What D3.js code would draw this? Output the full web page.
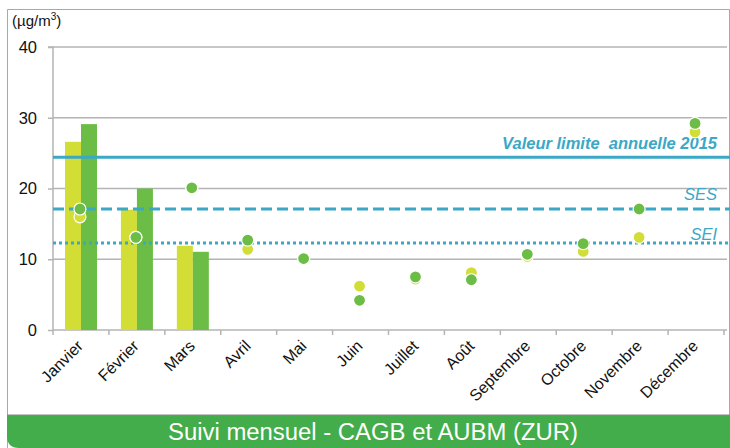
<!DOCTYPE html>
<html><head><meta charset="utf-8">
<script src="https://cdn.jsdelivr.net/npm/d3@7"></script>
<style>body{margin:0;background:#fff}svg{display:block}</style>
</head><body>
<script>
const months = ["Janvier","Février","Mars","Avril","Mai","Juin","Juillet","Août","Septembre","Octobre","Novembre","Décembre"];
// bar series (first quarter only)
const barsCAGB = [26.6, 17.0, 11.9, null, null, null, null, null, null, null, null, null];
const barsAUBM = [29.1, 20.0, 11.05, null, null, null, null, null, null, null, null, null];
// point series
const ptsCAGB = [16.0, 13.1, 20.0, 11.4, 10.0, 6.2, 7.2, 8.1, 10.4, 11.1, 13.1, 28.0];
const ptsAUBM = [17.1, 13.1, 20.1, 12.7, 10.1, 4.2, 7.5, 7.1, 10.7, 12.2, 17.1, 29.2];
const yTicks = [0, 10, 20, 30, 40];
const refLines = [
  {name:"Valeur limite  annuelle 2015", value:24.4, style:"solid"},
  {name:"SES", value:17.1, style:"dash"},
  {name:"SEI", value:12.3, style:"dot"}
];
const title = "Suivi mensuel - CAGB et AUBM (ZUR)";
const unitBase = "(µg/m", unitSup = "3", unitEnd = ")";

const W = 730, H = 448;
const FONT = "'Liberation Sans', Arial, sans-serif";
const svg = d3.select("body").append("svg").attr("width", W).attr("height", H);
const yellow = "#d2dd35", green = "#6bbd45", blue = "#3aa8c6", grid = "#b4b4b4";

// frame
svg.append("path")
  .attr("d", `M7.5,448 L7.5,9.5 L729.5,9.5 L729.5,448`)
  .attr("fill","none").attr("stroke","#a8a8a8").attr("stroke-width",1);
// bottom band
svg.append("path")
  .attr("d", `M7,415 L730,415 L730,448 L19,448 Q7,448 7,436 Z`)
  .attr("fill","#42ad4a");
svg.append("line").attr("x1",7).attr("x2",730).attr("y1",415).attr("y2",415).attr("stroke","#888").attr("stroke-width",1);
svg.append("text").text(title)
  .attr("x", 373).attr("y", 440).attr("text-anchor","middle")
  .attr("fill","#fff").attr("font-family",FONT)
  .attr("font-size",23).attr("textLength",410).attr("lengthAdjust","spacingAndGlyphs");

const x0 = 53, x1 = 724, yTop = 47, yBot = 330;
const x = d3.scaleBand().domain(months).range([x0, x1]).paddingInner(0).paddingOuter(0);
const y = d3.scaleLinear().domain([0, 40]).range([yBot, yTop]);

// gridlines
svg.append("g").selectAll("line").data(yTicks.filter(d=>d>0)).join("line")
  .attr("x1", x0).attr("x2", 727).attr("y1", d=>y(d)).attr("y2", d=>y(d))
  .attr("stroke", grid).attr("stroke-width",1.5);

// y axis
const yAxis = svg.append("g").attr("transform",`translate(${x0},0)`)
  .call(d3.axisLeft(y).tickValues(yTicks).tickSize(5).tickPadding(11).tickFormat(d3.format("d")));
yAxis.select(".domain").attr("stroke", grid).attr("stroke-width",1.5).attr("d",`M-5,${y(40)}H0V${yBot}`);
yAxis.selectAll(".tick line").attr("stroke", grid).attr("stroke-width",1.5);
yAxis.selectAll("text").attr("font-family",FONT).attr("font-size",16.5).attr("fill","#111");

const ut = svg.append("text").attr("x",12).attr("y",26)
  .attr("font-family",FONT).attr("font-size",15).attr("fill","#111");
ut.append("tspan").text(unitBase);
ut.append("tspan").text(unitSup).attr("font-size",10).attr("dy",-6);
ut.append("tspan").text(unitEnd).attr("dy",6);

// x axis
const xg = svg.append("g").attr("transform",`translate(0,${yBot})`);
xg.append("line").attr("x1",x0).attr("x2",727).attr("y1",0).attr("y2",0).attr("stroke",grid).attr("stroke-width",1.5);
const bounds = months.map(m=>x(m)).concat([x1]);
xg.selectAll("line.tk").data(bounds).join("line").attr("class","tk")
  .attr("x1",d=>d).attr("x2",d=>d).attr("y1",0).attr("y2",5).attr("stroke",grid).attr("stroke-width",1.5);
xg.selectAll("text").data(months).join("text")
  .text(d=>d)
  .attr("transform", d=>`translate(${x(d)+x.bandwidth()/2+3},${17}) rotate(-45)`)
  .attr("text-anchor","end")
  .attr("font-family",FONT).attr("font-size",16).attr("fill","#111");

// bars
const bw = 16, off = 12;
svg.append("g").selectAll("rect").data(months.map((m,i)=>({m,v:barsCAGB[i]})).filter(d=>d.v!=null)).join("rect")
  .attr("x", d=>x(d.m)+off).attr("width", bw).attr("y", d=>y(d.v)).attr("height", d=>yBot-y(d.v)).attr("fill", yellow);
svg.append("g").selectAll("rect").data(months.map((m,i)=>({m,v:barsAUBM[i]})).filter(d=>d.v!=null)).join("rect")
  .attr("x", d=>x(d.m)+off+bw).attr("width", bw).attr("y", d=>y(d.v)).attr("height", d=>yBot-y(d.v)).attr("fill", green);

// reference lines
refLines.forEach(r=>{
  const l = svg.append("line").attr("x1",x0).attr("x2",730).attr("y1",y(r.value)).attr("y2",y(r.value))
    .attr("stroke",blue).attr("stroke-width",3);
  if (r.style==="dash") l.attr("stroke-dasharray","11,5");
  if (r.style==="dot") l.attr("stroke-dasharray","3,3");
});
svg.append("text").text(refLines[0].name).attr("x",717).attr("y",y(refLines[0].value)-8)
  .attr("text-anchor","end").attr("font-family",FONT).attr("xml:space","preserve")
  .attr("font-size",16.5).attr("font-weight","bold").attr("font-style","italic").attr("fill",blue);
svg.append("text").text(refLines[1].name).attr("x",717).attr("y",y(refLines[1].value)-9)
  .attr("text-anchor","end").attr("font-family",FONT)
  .attr("font-size",16.5).attr("font-style","italic").attr("fill",blue);
svg.append("text").text(refLines[2].name).attr("x",717).attr("y",y(refLines[2].value)-3)
  .attr("text-anchor","end").attr("font-family",FONT)
  .attr("font-size",16.5).attr("font-style","italic").attr("fill",blue);

// points
const cx = m => x(m)+x.bandwidth()/2-1;
svg.append("g").selectAll("circle").data(months.map((m,i)=>({m,v:ptsCAGB[i]}))).join("circle")
  .attr("cx", d=>cx(d.m)).attr("cy", d=>y(d.v)).attr("r",6).attr("fill",yellow).attr("stroke","#fff").attr("stroke-width",1.2);
svg.append("g").selectAll("circle").data(months.map((m,i)=>({m,v:ptsAUBM[i]}))).join("circle")
  .attr("cx", d=>cx(d.m)).attr("cy", d=>y(d.v)).attr("r",6).attr("fill",green).attr("stroke","#fff").attr("stroke-width",1.2);
</script>
</body></html>
